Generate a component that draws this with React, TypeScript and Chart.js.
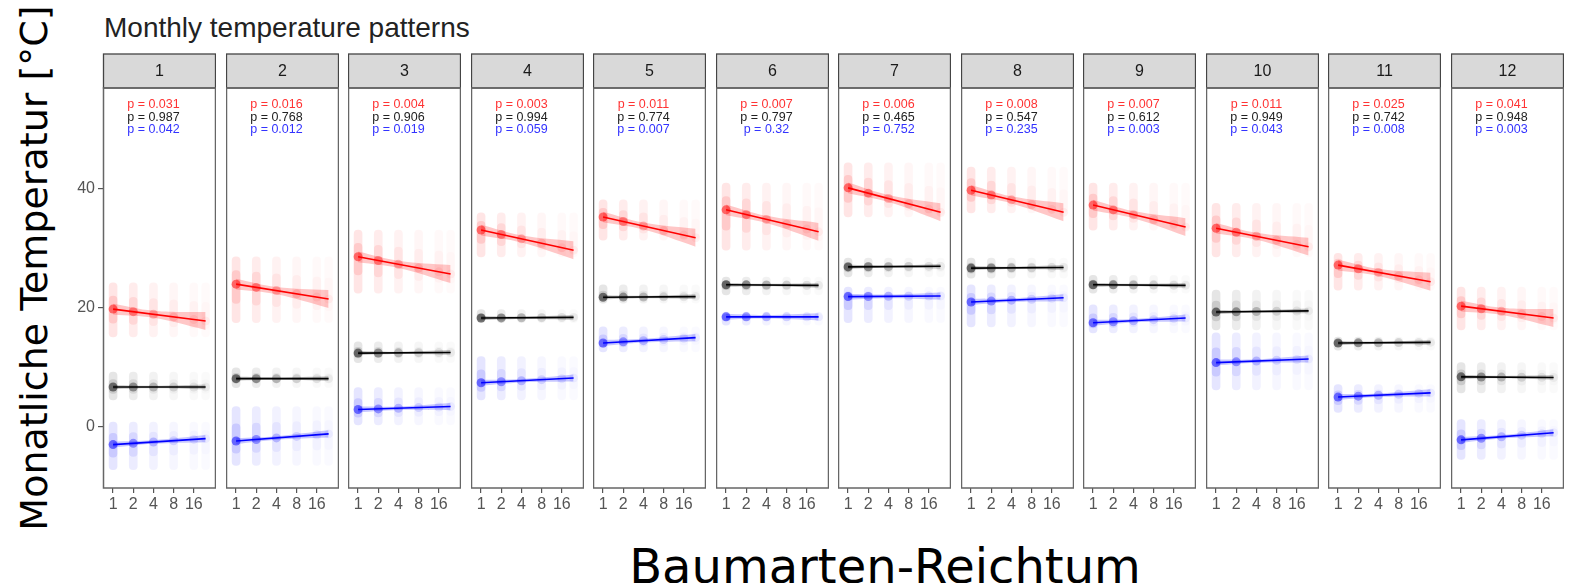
import React, { useEffect, useRef } from 'react';
import { Chart, registerables } from 'chart.js';

Chart.register(...registerables);
Chart.defaults.font.family = '"Liberation Sans", Arial, sans-serif';

// ---------- data ----------
const months = ['1', '2', '3', '4', '5', '6', '7', '8', '9', '10', '11', '12'];
const richness = [1, 2, 4, 8, 16, 24];
const xTickValues = [1, 2, 4, 8, 16];
const yTickValues = [0, 20, 40];

// fitted regression lines (value at richness 1 and at richness 24)
const maxStart = [19.8, 24.0, 28.6, 33.1, 35.3, 36.5, 40.2, 39.8, 37.3, 33.4, 27.2, 20.3];
const maxEnd = [17.8, 21.5, 25.7, 29.7, 31.8, 32.8, 36.1, 36.1, 33.6, 30.3, 24.4, 18.3];
const meanStart = [6.7, 8.1, 12.4, 18.3, 21.8, 23.9, 26.9, 26.7, 23.9, 19.3, 14.1, 8.4];
const meanEnd = [6.7, 8.1, 12.5, 18.4, 21.9, 23.8, 27.0, 26.8, 23.8, 19.5, 14.2, 8.3];
const minStart = [-3.0, -2.4, 2.9, 7.4, 14.1, 18.5, 21.9, 21.0, 17.5, 10.8, 5.0, -2.2];
const minEnd = [-2.0, -1.2, 3.4, 8.2, 15.0, 18.5, 22.0, 21.7, 18.3, 11.4, 5.7, -1.0];

// extent of the observation clouds
const maxHi = [24.2, 28.6, 33.1, 36.0, 38.2, 41.0, 44.4, 43.7, 41.0, 37.6, 29.2, 23.5];
const maxLo = [15.1, 17.5, 22.5, 28.6, 31.4, 29.7, 35.3, 36.0, 33.1, 28.6, 23.0, 16.3];
const meanHi = [9.2, 9.9, 14.3, 19.7, 23.9, 25.2, 28.4, 28.4, 25.5, 23.0, 15.1, 10.8];
const meanLo = [4.5, 6.6, 10.8, 17.5, 20.8, 22.2, 25.2, 25.0, 22.5, 16.3, 12.9, 5.7];
const minHi = [0.8, 3.4, 6.6, 11.8, 16.8, 19.3, 23.5, 23.9, 20.5, 15.8, 7.1, 1.2];
const minLo = [-7.2, -6.5, 0.3, 4.5, 12.6, 17.1, 17.5, 16.8, 15.8, 6.2, 2.4, -5.5];

// confidence band half widths at richness 1, 4, 24
const bandAt = [1, 4, 24];
const maxBand = [0.9, 0.6, 1.5];
const meanBand = [0.35, 0.2, 0.4];
const minBand = [0.5, 0.3, 0.6];

// p-values
const pMax = ['0.031', '0.016', '0.004', '0.003', '0.011', '0.007', '0.006', '0.008', '0.007', '0.011', '0.025', '0.041'];
const pMean = ['0.987', '0.768', '0.906', '0.994', '0.774', '0.797', '0.465', '0.547', '0.612', '0.949', '0.742', '0.948'];
const pMin = ['0.042', '0.012', '0.019', '0.059', '0.007', '0.32', '0.752', '0.235', '0.003', '0.043', '0.008', '0.003'];
const pTextX = 4;
const pTextY = [54.2, 52.1, 50.0];

// ---------- layout / style ----------
const PANEL_LEFT0 = 103;
const PANEL_STEP = 122.5;
const PANEL_W = 113;
const STRIP_TOP = 53;
const STRIP_H = 35;
const PLOT_H = 400;
const XAXIS_H = 32;
const YAXIS_W = 44;
const Y_MIN = -10.3;
const Y_MAX = 57.0;
const X_MIN = -0.5;
const X_MAX = 5.1;

const cloudAlpha = [0.1, 0.075, 0.05, 0.035, 0.025, 0.02];
const coreAlpha = [0.12, 0.09, 0.06, 0.04, 0.03, 0.02];
const blobAlpha = [0.5, 0.36, 0.22, 0.13, 0.08, 0.05];
const RED = [255, 0, 0];
const BLACK = [0, 0, 0];
const BLUE = [0, 0, 255];
const rgba = (c: number[], a: number) => `rgba(${c[0]},${c[1]},${c[2]},${a})`;

const lg = (r: number) => Math.log2(r);

const panelPlugin = {
  id: 'panelDeco',
  afterDraw(chart: any, _args: any, opts: any) {
    const { ctx, chartArea } = chart;
    const { left, top, right, bottom } = chartArea;
    ctx.save();
    // strip
    ctx.fillStyle = '#d9d9d9';
    ctx.fillRect(left, top - STRIP_H + 1, right - left, STRIP_H - 1);
    ctx.strokeStyle = '#444';
    ctx.lineWidth = 1.3;
    ctx.strokeRect(left + 0.5, top - STRIP_H + 1, right - left - 1, STRIP_H - 1);
    ctx.fillStyle = '#1a1a1a';
    ctx.font = '16px "Liberation Sans", Arial, sans-serif';
    ctx.textAlign = 'center';
    ctx.textBaseline = 'middle';
    ctx.fillText(opts.label, (left + right) / 2, top - STRIP_H / 2 + 1);
    // panel border
    ctx.strokeStyle = '#666';
    ctx.lineWidth = 1.5;
    ctx.strokeRect(left + 0.5, top, right - left - 1, bottom - top);
    // p-values
    const xs = chart.scales.x;
    const ys = chart.scales.y;
    const px = xs.getPixelForValue(lg(pTextX));
    ctx.font = '12.5px "Liberation Sans", Arial, sans-serif';
    const cols = ['#ff3333', '#222222', '#3333ff'];
    opts.texts.forEach((t: string, k: number) => {
      ctx.fillStyle = cols[k];
      ctx.fillText('p = ' + t, px, ys.getPixelForValue(pTextY[k]));
    });
    ctx.restore();
  },
};

function seriesDatasets(
  col: number[],
  start: number,
  end: number,
  lo: number,
  hi: number,
  band: number[],
  baseOrder: number
) {
  const fit = (r: number) => start + ((end - start) * lg(r)) / lg(24);
  return [
    {
      type: 'bar',
      data: richness.map((r) => ({ x: lg(r), y: [lo, hi] })),
      backgroundColor: richness.map((_, k) => rgba(col, cloudAlpha[k])),
      borderWidth: 0,
      borderRadius: 4,
      borderSkipped: false,
      barThickness: 8,
      grouped: false,
      order: baseOrder + 4,
    },
    {
      type: 'bar',
      data: richness.map((r) => ({ x: lg(r), y: [(lo + fit(r)) / 2, (hi + fit(r)) / 2] })),
      backgroundColor: richness.map((_, k) => rgba(col, coreAlpha[k])),
      borderWidth: 0,
      borderRadius: 4,
      borderSkipped: false,
      barThickness: 8,
      grouped: false,
      order: baseOrder + 3,
    },
    {
      type: 'scatter',
      data: richness.map((r) => ({ x: lg(r), y: fit(r) })),
      pointRadius: 4.5,
      pointBorderWidth: 0,
      pointBackgroundColor: richness.map((_, k) => rgba(col, blobAlpha[k])),
      showLine: false,
      order: baseOrder + 2,
    },
    {
      type: 'line',
      data: bandAt.map((r, k) => ({ x: lg(r), y: fit(r) + band[k] })),
      borderWidth: 0,
      pointRadius: 0,
      fill: false,
      tension: 0.4,
      order: baseOrder + 1,
    },
    {
      type: 'line',
      data: bandAt.map((r, k) => ({ x: lg(r), y: fit(r) - band[k] })),
      borderWidth: 0,
      pointRadius: 0,
      fill: '-1',
      backgroundColor: rgba(col, 0.22),
      tension: 0.4,
      order: baseOrder + 1,
    },
    {
      type: 'line',
      data: [
        { x: lg(1), y: start },
        { x: lg(24), y: end },
      ],
      borderColor: rgba(col, 1),
      borderWidth: 1.6,
      pointRadius: 0,
      fill: false,
      order: baseOrder,
    },
  ];
}

function Panel({ idx }: { idx: number }) {
  const ref = useRef<HTMLCanvasElement | null>(null);
  const first = idx === 0;
  const width = PANEL_W + (first ? YAXIS_W : 0);
  const height = STRIP_H + PLOT_H + XAXIS_H;
  const left = Math.round(PANEL_LEFT0 + idx * PANEL_STEP) - (first ? YAXIS_W : 0);

  useEffect(() => {
    if (!ref.current) return;
    const datasets: any[] = [
      ...seriesDatasets(BLUE, minStart[idx], minEnd[idx], minLo[idx], minHi[idx], minBand, 20),
      ...seriesDatasets(BLACK, meanStart[idx], meanEnd[idx], meanLo[idx], meanHi[idx], meanBand, 10),
      ...seriesDatasets(RED, maxStart[idx], maxEnd[idx], maxLo[idx], maxHi[idx], maxBand, 0),
    ];
    const chart = new Chart(ref.current, {
      type: 'bar',
      data: { datasets },
      plugins: [panelPlugin],
      options: {
        animation: false,
        responsive: false,
        maintainAspectRatio: false,
        layout: { autoPadding: false, padding: { top: STRIP_H, left: 0, right: 0, bottom: 0 } },
        plugins: {
          legend: { display: false },
          tooltip: { enabled: false },
          panelDeco: { label: months[idx], texts: [pMax[idx], pMean[idx], pMin[idx]] },
        } as any,
        scales: {
          x: {
            type: 'linear',
            min: X_MIN,
            max: X_MAX,
            offset: false,
            afterBuildTicks: (s: any) => {
              s.ticks = xTickValues.map((v) => ({ value: lg(v) }));
            },
            afterFit: (s: any) => {
              s.height = XAXIS_H;
              s.paddingLeft = 0;
              s.paddingRight = 0;
            },
            ticks: {
              autoSkip: false,
              maxRotation: 0,
              padding: 2,
              color: '#555',
              font: { size: 16 },
              callback: (_v: any, i: number) => String(xTickValues[i]),
            },
            grid: {
              display: true,
              drawOnChartArea: false,
              drawTicks: true,
              tickLength: 5,
              color: '#555',
              lineWidth: 1.2,
              offset: false,
            },
            border: { display: false },
          },
          y: {
            type: 'linear',
            min: Y_MIN,
            max: Y_MAX,
            display: first,
            afterBuildTicks: (s: any) => {
              s.ticks = yTickValues.map((v) => ({ value: v }));
            },
            afterFit: (s: any) => {
              s.width = first ? YAXIS_W : 0;
              s.paddingTop = 0;
              s.paddingBottom = 0;
            },
            ticks: {
              padding: 3,
              color: '#555',
              font: { size: 16 },
              callback: (v: any) => String(v),
            },
            grid: {
              display: true,
              drawOnChartArea: false,
              drawTicks: true,
              tickLength: 5,
              color: '#555',
              lineWidth: 1.2,
            },
            border: { display: false },
          },
        },
      } as any,
    } as any);
    return () => chart.destroy();
  }, [idx]);

  return (
    <canvas
      ref={ref}
      width={width}
      height={height}
      style={{ position: 'absolute', left, top: STRIP_TOP, width, height }}
    />
  );
}

export default function App() {
  return (
    <div
      style={{
        position: 'absolute',
        left: 0,
        top: 0,
        width: 1573,
        height: 583,
        background: '#fff',
        overflow: 'hidden',
      }}
    >
      <div
        style={{
          position: 'absolute',
          left: 104,
          top: 14,
          font: '28px "Liberation Sans", Arial, sans-serif',
          color: '#222',
          whiteSpace: 'nowrap',
          lineHeight: 1,
        }}
      >
        Monthly temperature patterns
      </div>
      <div
        style={{
          position: 'absolute',
          left: 34,
          top: 268,
          transform: 'translate(-50%, -50%) rotate(-90deg)',
          font: '38px "DejaVu Sans", sans-serif',
          color: '#000',
          whiteSpace: 'nowrap',
          lineHeight: 1,
        }}
      >
        Monatliche Temperatur [°C]
      </div>
      <div
        style={{
          position: 'absolute',
          left: 885,
          top: 566,
          transform: 'translate(-50%, -50%)',
          font: '48px "DejaVu Sans", sans-serif',
          color: '#000',
          whiteSpace: 'nowrap',
          lineHeight: 1,
        }}
      >
        Baumarten-Reichtum
      </div>
      {months.map((_, i) => (
        <Panel key={i} idx={i} />
      ))}
    </div>
  );
}
